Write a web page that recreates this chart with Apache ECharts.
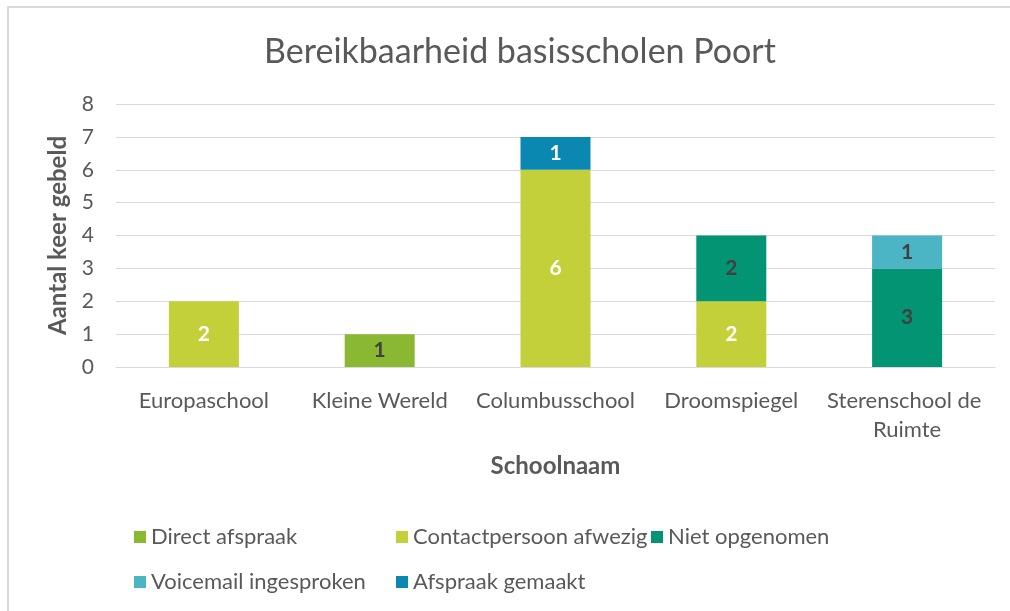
<!DOCTYPE html>
<html>
<head>
<meta charset="utf-8">
<script src="https://cdn.jsdelivr.net/npm/echarts@6/dist/echarts.min.js"></script>
<style>
    html, body { margin: 0; padding: 0; background: #fff; }
    #frame { position: absolute; left: 7px; top: 6px; width: 1100px; height: 700px; border: 2px solid #d9d9d9; box-sizing: border-box; }
    #chart { position: absolute; left: 0; top: 0; width: 1010px; height: 611px; }
</style>
</head>
<body>
<div id="frame"></div>
<div id="chart"></div>
<script>
    var scholen = ['Europaschool', 'Kleine Wereld', 'Columbusschool', 'Droomspiegel', 'Sterenschool de Ruimte'];
    var yTicks = [0, 8, 1];

    var directAfspraak = [null, 1, null, null, null];
    var contactAfwezig = [2, null, 6, 2, null];
    var nietOpgenomen = [null, null, null, 2, 3];
    var voicemail = [null, null, null, null, 1];
    var afspraakGemaakt = [null, null, 1, null, null];

    var font = 'Lato';
    var grey = '#595959';

    function bar(name, data, color, labelColor) {
        return {
            name: name,
            type: 'bar',
            stack: 'total',
            barWidth: 70,
            data: data,
            itemStyle: {color: color},
            label: {
                show: true,
                position: 'inside',
                color: labelColor,
                fontFamily: font,
                fontWeight: 'bold',
                fontSize: 21
            }
        };
    }

    function legendItem(name, left, top) {
        return {
            data: [name],
            left: left,
            top: top,
            itemWidth: 12,
            itemHeight: 12,
            itemGap: 8,
            icon: 'rect',
            selectedMode: false,
            textStyle: {color: grey, fontFamily: font, fontSize: 22}
        };
    }

    var chart = echarts.init(document.getElementById('chart'), null, {renderer: 'canvas'});
    var option = {
        animation: false,
        title: {
            text: 'Bereikbaarheid basisscholen Poort',
            left: 515,
            top: 30,
            textAlign: 'center',
            textStyle: {color: grey, fontFamily: font, fontWeight: 'normal', fontSize: 34}
        },
        grid: {left: 116, right: 15, top: 104, bottom: 244},
        legend: [
            legendItem('Direct afspraak', 129, 521),
            legendItem('Contactpersoon afwezig', 391, 521),
            legendItem('Niet opgenomen', 646, 521),
            legendItem('Voicemail ingesproken', 129, 566),
            legendItem('Afspraak gemaakt', 391, 566)
        ],
        xAxis: {
            type: 'category',
            data: scholen,
            name: 'Schoolnaam',
            nameLocation: 'middle',
            nameGap: 87,
            nameTextStyle: {color: grey, fontFamily: font, fontWeight: 'bold', fontSize: 24},
            axisLine: {lineStyle: {color: '#d9d9d9', width: 1}},
            axisTick: {show: false},
            axisLabel: {
                interval: 0,
                color: grey,
                fontFamily: font,
                fontSize: 22,
                margin: 19,
                width: 172,
                overflow: 'break',
                lineHeight: 29
            }
        },
        yAxis: {
            type: 'value',
            min: yTicks[0],
            max: yTicks[1],
            interval: yTicks[2],
            name: 'Aantal keer gebeld',
            nameLocation: 'middle',
            nameGap: 46,
            nameTextStyle: {color: grey, fontFamily: font, fontWeight: 'bold', fontSize: 24},
            axisLine: {show: false},
            axisTick: {show: false},
            axisLabel: {color: grey, fontFamily: font, fontSize: 21, margin: 22},
            splitLine: {lineStyle: {color: '#d9d9d9', width: 1}}
        },
        series: [
            bar('Direct afspraak', directAfspraak, '#8bb832', '#404040'),
            bar('Contactpersoon afwezig', contactAfwezig, '#c3d03a', '#ffffff'),
            bar('Niet opgenomen', nietOpgenomen, '#039474', '#404040'),
            bar('Voicemail ingesproken', voicemail, '#4bb4c5', '#404040'),
            bar('Afspraak gemaakt', afspraakGemaakt, '#0b88b2', '#ffffff')
        ]
    };
    chart.setOption(option);
</script>
</body>
</html>
